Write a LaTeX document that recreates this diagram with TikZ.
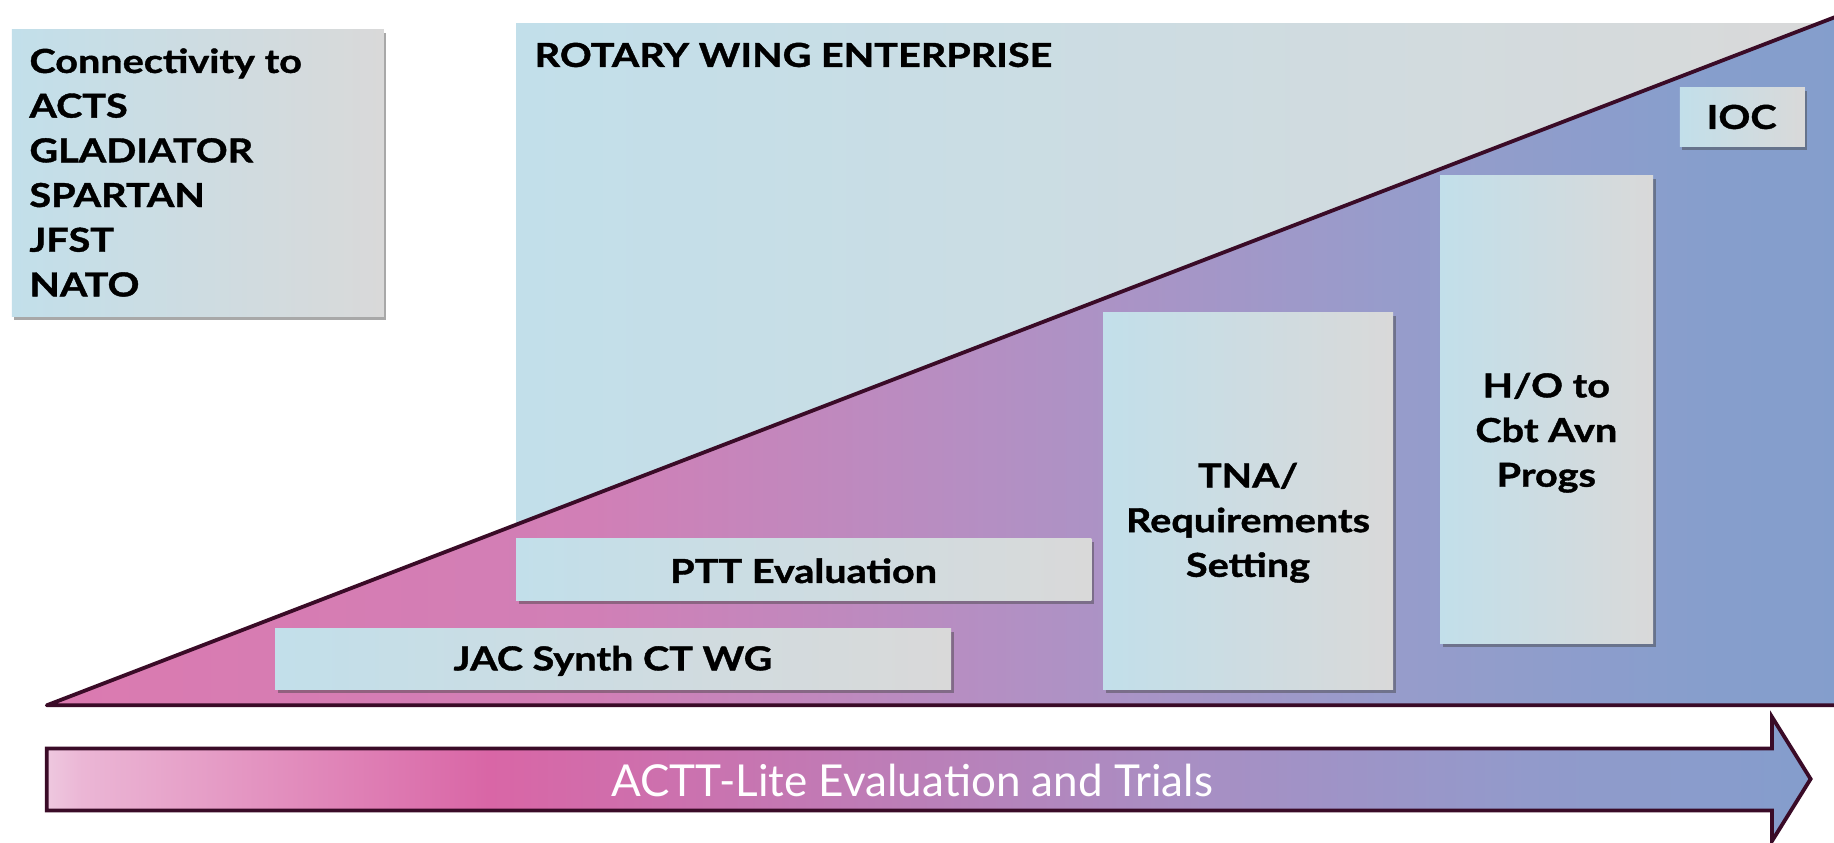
\documentclass[tikz,border=0pt]{standalone}
\usepackage{fontspec}
\setmainfont{Lato}[BoldFeatures={FakeStretch=1.2,FakeBold=1.2}]
\usetikzlibrary{shadows}
\definecolor{bord}{HTML}{3A0B27}
\definecolor{lb}{HTML}{C2DFEA}
\definecolor{gr}{HTML}{D9D9D9}
\definecolor{ta}{HTML}{DB7AB0}
\definecolor{tb}{HTML}{D17FB6}
\definecolor{tc}{HTML}{B48FC3}
\definecolor{td}{HTML}{979CCB}
\definecolor{te}{HTML}{869ECC}
\definecolor{tf}{HTML}{849ECC}
\definecolor{aa}{HTML}{EEC8DF}
\definecolor{ab}{HTML}{EBB6D5}
\definecolor{ac}{HTML}{D966A6}
\definecolor{ad}{HTML}{A98EC3}
\definecolor{ae}{HTML}{929ACB}
\definecolor{af}{HTML}{849DCC}
\pgfdeclarehorizontalshading{trishade}{100bp}{color(0bp)=(ta); color(25bp)=(ta); color(40bp)=(tb); color(51bp)=(tc); color(62bp)=(td); color(71bp)=(te); color(75bp)=(tf); color(100bp)=(tf)}
\pgfdeclarehorizontalshading{arrshade}{100bp}{color(0bp)=(aa); color(25bp)=(aa); color(26bp)=(ab); color(37.5bp)=(ac); color(57bp)=(ad); color(67bp)=(ae); color(75bp)=(af); color(100bp)=(af)}
\tikzset{
  box/.style={anchor=north west, inner sep=0pt, left color=lb, right color=gr,
    drop shadow={shadow xshift=2.5pt, shadow yshift=-3.5pt, opacity=0.45, fill=black!75}},
  lbl/.style={font=\bfseries\fontsize{33}{44.7}\selectfont, text=black, align=center, inner sep=0pt},
}
\begin{document}
\begin{tikzpicture}[x=1.1697pt,y=-1.1697pt]
\clip (0,0) rectangle (1568,720);
\fill[white] (0,0) rectangle (1568,720);
% connectivity box
\node[box, minimum width=372pt, minimum height=286.6pt] (conn) at (10,25) {};
\node[lbl, anchor=west, align=left] (connT) at (25,147.5) {Connectivity to\\ACTS\\GLADIATOR\\SPARTAN\\JFST\\NATO};
% rotary wing enterprise background
\node[anchor=north west, inner sep=0pt, left color=lb, right color=gr, minimum width=1318pt, minimum height=682pt] (rot) at (441,20) {};
\node[lbl, anchor=west] (rotT) at (457,47) {ROTARY WING ENTERPRISE};
% triangle
\path[shading=trishade, draw=bord, line width=3.8pt, line join=round]
  (40,603) -- (1590,6.5) -- (1590,603) -- cycle;
% boxes
\node[box, minimum width=125pt, minimum height=58.5pt] (ioc) at (1436,75) {};
\node[lbl] (iocT) at (1489,100) {IOC};
\node[box, minimum width=213pt, minimum height=468pt] (ho) at (1231,150) {};
\node[lbl] (hoT) at (1322,370) {H/O to\\Cbt Avn\\Progs};
\node[box, minimum width=290pt, minimum height=376.6pt] (tna) at (943,267) {};
\node[lbl] (tnaT) at (1067,447) {TNA/\\Requirements\\Setting};
\node[box, minimum width=575.5pt, minimum height=62pt] (ptt) at (441,460) {};
\node[lbl] (pttT) at (687,488) {PTT Evaluation};
\node[box, minimum width=676pt, minimum height=61pt] (jac) at (235,537) {};
\node[lbl] (jacT) at (524,565) {JAC Synth CT WG};
% arrow
\path[shading=arrshade, draw=bord, line width=3.8pt, line join=miter]
  (40,640) -- (1515,640) -- (1515,613) -- (1548,666) -- (1515,719) -- (1515,693) -- (40,693) -- cycle;
\node[font=\fontsize{44}{50}\selectfont, text=white, inner sep=0pt] (actt) at (780,667) {ACTT-Lite Evaluation and Trials};
\end{tikzpicture}
\end{document}
